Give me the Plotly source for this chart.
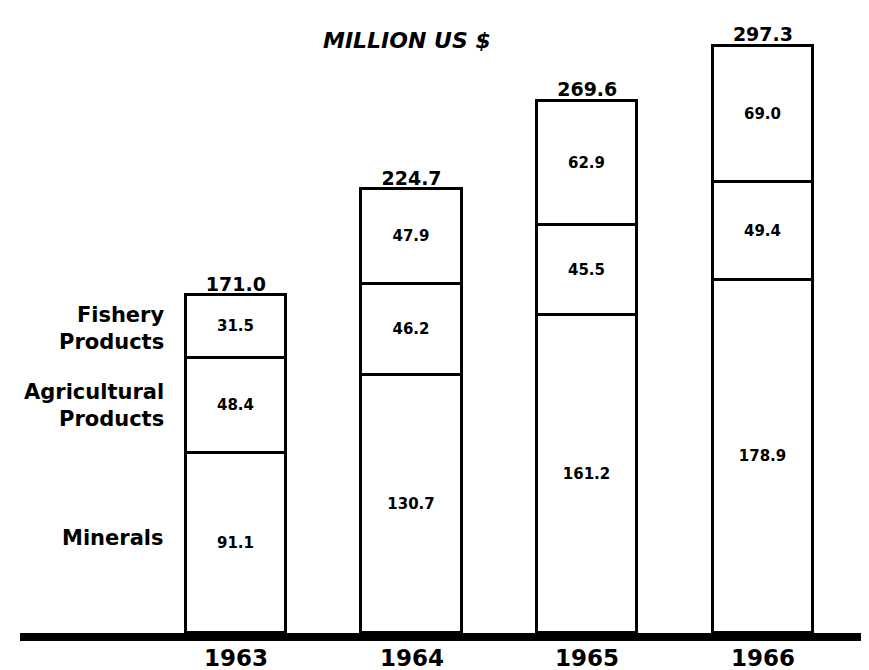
import plotly.graph_objects as go

years = ["1963", "1964", "1965", "1966"]
minerals = [91.1, 130.7, 161.2, 178.9]
agricultural = [48.4, 46.2, 45.5, 49.4]
fishery = [31.5, 47.9, 62.9, 69.0]
totals = [171.0, 224.7, 269.6, 297.3]
categories = ["Minerals", "Agricultural<br>Products", "Fishery<br>Products"]
title_text = "MILLION US $"

FONT = "DejaVu Sans"
idx = list(range(len(years)))
fig = go.Figure()

for vals in (minerals, agricultural, fishery):
    fig.add_trace(go.Bar(
        x=idx, y=vals, width=0.57,
        marker=dict(color="white", line=dict(color="black", width=3)),
        text=[f"{v:.1f}" for v in vals],
        textposition="inside", insidetextanchor="middle", textangle=0,
        textfont=dict(family=FONT, size=15, color="black", weight="bold"),
        hoverinfo="skip", showlegend=False,
    ))

fig.add_trace(go.Scatter(
    x=idx, y=totals, mode="text",
    text=[f"{v:.1f}" for v in totals], textposition="top center",
    textfont=dict(family=FONT, size=19, color="black", weight="bold"),
    hoverinfo="skip", showlegend=False,
))

# category labels to the left of the first bar
first = [minerals[0], agricultural[0], fishery[0]]
bases = [0, minerals[0], minerals[0] + agricultural[0]]
fracs = [0.53, 0.50, 0.47]
for lab, b, v, f in zip(categories, bases, first, fracs):
    fig.add_annotation(x=-0.40, y=b + v * f, xref="x", yref="y", text=lab, showarrow=False,
                       xanchor="right", yanchor="middle", align="right",
                       font=dict(family=FONT, size=21, color="black", weight="bold"))

for i, yr in zip(idx, years):
    fig.add_annotation(x=i, y=0, xref="x", yref="y", text=yr, showarrow=False,
                       yanchor="top", yshift=-10,
                       font=dict(family=FONT, size=23, color="black", weight="bold"))

fig.add_annotation(x=(399 - 12) / 849, y=1 - 33 / 625, xref="paper", yref="paper", text=title_text,
                   showarrow=False, xanchor="center", yanchor="middle",
                   font=dict(family=FONT, size=22, color="black", weight="bold", style="italic"))

fig.update_layout(
    width=861, height=662,
    margin=dict(l=12, r=0, t=0, b=37),
    paper_bgcolor="white", plot_bgcolor="white",
    barmode="stack", bargap=0,
    xaxis=dict(range=[-1.2285, 3.6036], showticklabels=False, showgrid=False, zeroline=False,
               showline=True, linewidth=8, linecolor="black", ticks=""),
    yaxis=dict(range=[0, 316.5], visible=False, showgrid=False, zeroline=False),
)

fig.write_html("out.html")
